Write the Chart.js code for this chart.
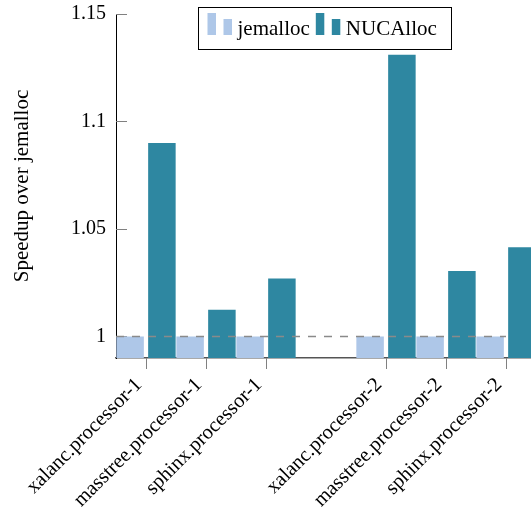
<!DOCTYPE html>
<html>
<head>
<meta charset="utf-8">
<script src="https://cdn.jsdelivr.net/npm/chart.js@4.4.1/dist/chart.umd.min.js"></script>
<style>
  html, body { margin: 0; padding: 0; background: #fff; overflow: hidden; }
  #wrap { position: relative; width: 536px; height: 508px; }
</style>
</head>
<body>
<div id="wrap"><canvas id="speedup"></canvas></div>
<script>
// categories ('' = empty slot between the two processors)
const categories = [
  'xalanc.processor-1', 'masstree.processor-1', 'sphinx.processor-1', '',
  'xalanc.processor-2', 'masstree.processor-2', 'sphinx.processor-2'
];
const jemalloc  = [1, 1, 1, null, 1, 1, 1];
const nucalloc  = [1.09, 1.0125, 1.027, null, 1.131, 1.0305, 1.0415];
const yTicks    = [1, 1.05, 1.1, 1.15];
const yMin = 0.99, yMax = 1.15;
const baseline = 1;

const FONT = "'Liberation Serif', 'Times New Roman', serif";
const COLORS = { jem: '#aec7e8', nuc: '#2e87a1' };

// pgfplots-ish inward y ticks + dashed baseline at 1
const axisExtras = {
  id: 'axisExtras',
  beforeDatasetsDraw(chart) {
    const { ctx, chartArea, scales: { y } } = chart;
    ctx.save();
    ctx.strokeStyle = '#808080'; ctx.lineWidth = 1;
    yTicks.forEach(v => {
      const py = Math.round(y.getPixelForValue(v)) + 0.5;
      ctx.beginPath(); ctx.moveTo(chartArea.left, py); ctx.lineTo(chartArea.left + 11, py); ctx.stroke();
    });
    ctx.restore();
  },
  afterDatasetsDraw(chart) {
    const { ctx, chartArea, scales: { x, y } } = chart;
    const py = Math.round(y.getPixelForValue(baseline)) + 0.5;
    ctx.save();
    ctx.strokeStyle = '#8a8a8a'; ctx.lineWidth = 1.3; ctx.setLineDash([8, 8]);
    ctx.beginPath(); ctx.moveTo(chartArea.left, py); ctx.lineTo(x.getPixelForValue(categories.length - 1), py); ctx.stroke();
    ctx.restore();
  }
};

// legend box inside the plot, two little bars per entry
const boxLegend = {
  id: 'boxLegend',
  afterDraw(chart) {
    const ctx = chart.ctx;
    const left = 198.5, top = 7.5, w = 253, h = 42;
    ctx.save();
    ctx.fillStyle = '#fff'; ctx.fillRect(left, top, w, h);
    ctx.strokeStyle = '#000'; ctx.lineWidth = 1; ctx.strokeRect(left, top, w, h);
    ctx.font = '21px ' + FONT; ctx.textBaseline = 'alphabetic'; ctx.fillStyle = '#000';
    let cx = left + 9;
    const base = 35;
    chart.data.datasets.forEach(ds => {
      ctx.fillStyle = ds.backgroundColor;
      ctx.fillRect(cx, base - 22, 8.5, 22);
      ctx.fillRect(cx + 16, base - 16, 8.5, 16);
      ctx.fillStyle = '#000';
      ctx.fillText(ds.label, cx + 30, base);
      cx += 30 + ctx.measureText(ds.label).width + 6;
    });
    ctx.restore();
  }
};

new Chart(document.getElementById('speedup'), {
  type: 'bar',
  data: {
    labels: categories,
    datasets: [
      { label: 'jemalloc', data: jemalloc, backgroundColor: COLORS.jem, borderWidth: 0,
        categoryPercentage: 1.06, barPercentage: 0.865 },
      { label: 'NUCAlloc', data: nucalloc, backgroundColor: COLORS.nuc, borderWidth: 0,
        categoryPercentage: 1.06, barPercentage: 0.865 }
    ]
  },
  plugins: [axisExtras, boxLegend],
  options: {
    responsive: true, maintainAspectRatio: false, animation: false,
    layout: { padding: { top: 8, right: 0, bottom: 0, left: 0 } },
    plugins: { legend: { display: false }, tooltip: { enabled: false } },
    scales: {
      x: {
        grid: {
          offset: false, drawOnChartArea: false, drawTicks: true, tickLength: 11,
          color: c => categories[c.index] ? '#808080' : 'rgba(0,0,0,0)'
        },
        border: { display: true, color: '#555', width: 1.5 },
        ticks: { autoSkip: false, minRotation: 45, maxRotation: 45, padding: 4, labelOffset: -7,
                 color: '#000', font: { family: FONT, size: 20.5 } },
        afterFit: s => { s.height = 150; }
      },
      y: {
        min: yMin, max: yMax,
        grid: { display: false },
        border: { display: true, color: '#000', width: 1 },
        afterBuildTicks: s => { s.ticks = yTicks.map(v => ({ value: v })); },
        ticks: { padding: 2, color: '#000', font: { family: FONT, size: 20 },
                 callback: v => String(+v.toFixed(2)) },
        title: { display: true, text: 'Speedup over jemalloc', color: '#000',
                 font: { family: FONT, size: 21 }, padding: { top: 10, bottom: 0 } },
        afterFit: s => { s.width = 116; }
      }
    }
  }
});
</script>
</body>
</html>
